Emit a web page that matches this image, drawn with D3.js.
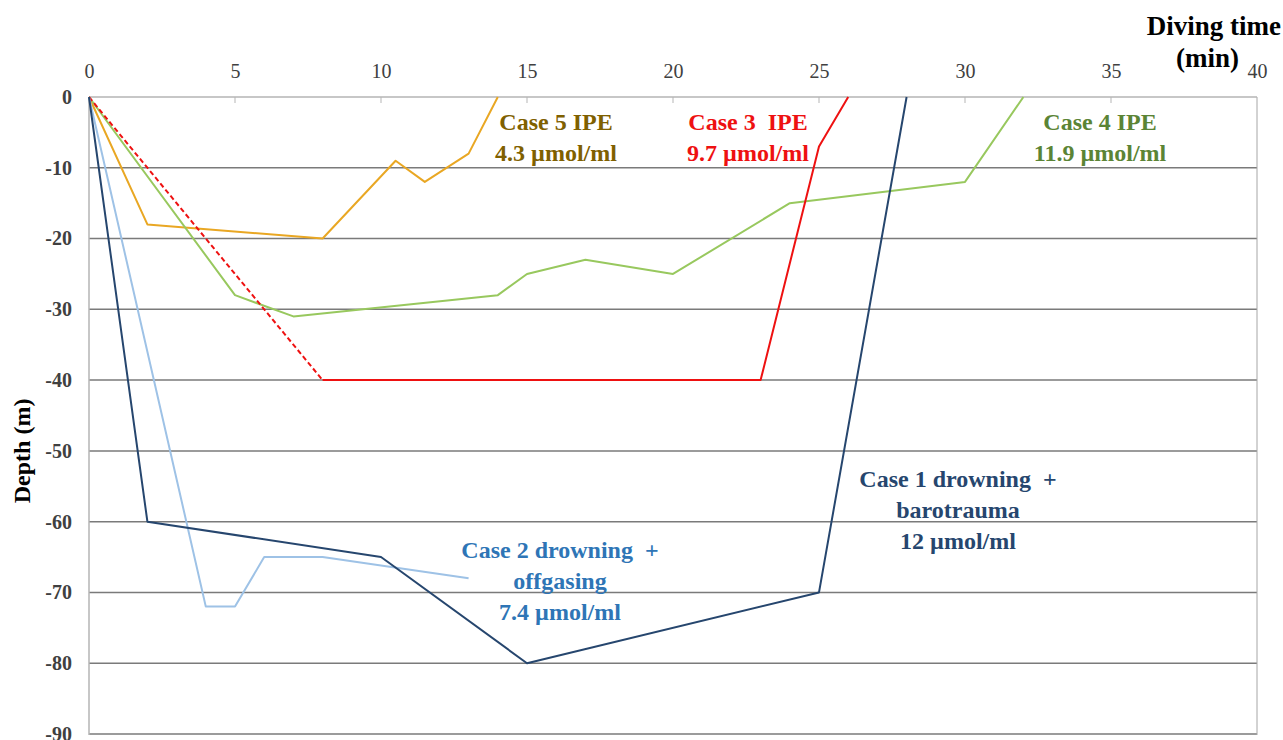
<!DOCTYPE html>
<html>
<head>
<meta charset="utf-8">
<script src="https://cdn.jsdelivr.net/npm/d3@7"></script>
<style>
  body { margin: 0; background: #fff; }
</style>
</head>
<body>
<div id="chart"></div>
<script>
// time (min) and depth (m) read from the dive profiles
const xTicks = [0, 5, 10, 15, 20, 25, 30, 35, 40];
const yTicks = [0, -10, -20, -30, -40, -50, -60, -70, -80, -90];

const case1Time = [0, 2, 10, 15, 25, 28];
const case1Depth = [0, -60, -65, -80, -70, 0];

const case2Time = [0, 4, 5, 6, 8, 13];
const case2Depth = [0, -72, -72, -65, -65, -68];

const case3DescentTime = [0, 8];
const case3DescentDepth = [0, -40];
const case3Time = [8, 23, 25, 26];
const case3Depth = [-40, -40, -7, 0];

const case4Time = [0, 5, 7, 14, 15, 17, 20, 24, 30, 32];
const case4Depth = [0, -28, -31, -28, -25, -23, -25, -15, -12, 0];

const case5Time = [0, 2, 8, 10.5, 11.5, 13, 14];
const case5Depth = [0, -18, -20, -9, -12, -8, 0];

const FONT = '"Liberation Serif", "Times New Roman", serif';
const MARGIN = { TOP: 97, LEFT: 89, BOTTOM: 5, RIGHT: 26 };
const W = 1283, H = 740;
const WIDTH = W - MARGIN.LEFT - MARGIN.RIGHT;
const HEIGHT = H - MARGIN.TOP - MARGIN.BOTTOM;

var svg = d3.select('#chart').append('svg')
  .attr('width', W)
  .attr('height', H)
  .style('font-family', FONT);

var g = svg.append('g')
  .attr('transform', 'translate(' + MARGIN.LEFT + ',' + MARGIN.TOP + ')');

var x = d3.scaleLinear().domain([0, 40]).range([0, WIDTH]);
var y = d3.scaleLinear().domain([0, -90]).range([0, HEIGHT - 1]);

// horizontal grid
g.selectAll('.grid')
  .data(yTicks.filter(function (d) { return d !== 0; }))
  .enter().append('line')
  .attr('x1', 0).attr('x2', WIDTH)
  .attr('y1', function (d) { return y(d); })
  .attr('y2', function (d) { return y(d); })
  .style('stroke', '#7a7a7a')
  .style('stroke-width', 1.5);

// right border
g.append('line')
  .attr('x1', WIDTH).attr('x2', WIDTH)
  .attr('y1', 0).attr('y2', HEIGHT)
  .style('stroke', '#a6a6a6');

// top axis
var xAxis = d3.axisTop(x).tickValues(xTicks).tickSize(0).tickPadding(19)
  .tickFormat(function (d) { return String(d); });
var gx = g.append('g').attr('class', 'x axis').call(xAxis);
gx.select('.domain').remove();
g.append('line')
  .attr('x1', 0).attr('x2', WIDTH).attr('y1', 0).attr('y2', 0)
  .style('stroke', '#b5b5b5').style('stroke-width', 1.5);
g.selectAll('.xtick')
  .data(xTicks.slice(1, -1))
  .enter().append('line')
  .attr('x1', function (d) { return x(d); })
  .attr('x2', function (d) { return x(d); })
  .attr('y1', 0).attr('y2', 6)
  .style('stroke', '#b5b5b5');

// left axis
var yAxis = d3.axisLeft(y).tickValues(yTicks).tickSize(0).tickPadding(17)
  .tickFormat(function (d) { return String(d); });
var gy = g.append('g').attr('class', 'y axis').call(yAxis);
gy.select('.domain').remove();
g.append('line')
  .attr('x1', 0).attr('x2', 0).attr('y1', 0).attr('y2', HEIGHT)
  .style('stroke', '#b5b5b5').style('stroke-width', 1.5);

g.selectAll('.axis').attr('font-family', FONT);
g.selectAll('.x.axis text')
  .style('font-size', '20px')
  .attr('fill', '#404040');
g.selectAll('.y.axis text')
  .style('font-size', '20px')
  .style('font-weight', 'bold')
  .attr('fill', '#404040');

// axis titles
svg.append('text')
  .attr('x', 1281).attr('y', 35)
  .attr('text-anchor', 'end')
  .style('font-size', '27px').style('font-weight', 'bold')
  .text('Diving time');
svg.append('text')
  .attr('x', 1239).attr('y', 67)
  .attr('text-anchor', 'end')
  .style('font-size', '27px').style('font-weight', 'bold')
  .text('(min)');
svg.append('text')
  .attr('transform', 'translate(30,' + (MARGIN.TOP + y(-50)) + ') rotate(-90)')
  .attr('text-anchor', 'middle')
  .style('font-size', '24px').style('font-weight', 'bold')
  .text('Depth (m)');

var line = d3.line()
  .x(function (d) { return x(d[0]); })
  .y(function (d) { return y(d[1]); });

function drawCase (times, depths, color, dash) {
  g.append('path')
    .datum(d3.zip(times, depths))
    .attr('d', line)
    .attr('fill', 'none')
    .style('stroke', color)
    .style('stroke-width', 2)
    .style('stroke-linejoin', 'round')
    .style('stroke-dasharray', dash || null);
}

drawCase(case5Time, case5Depth, '#e9a723');
drawCase(case4Time, case4Depth, '#98c85e');
drawCase(case3DescentTime, case3DescentDepth, '#ee1111', '5,3');
drawCase(case3Time, case3Depth, '#ee1111');
drawCase(case2Time, case2Depth, '#9ec2e6');
drawCase(case1Time, case1Depth, '#26466e');

// annotations (double spaces kept with a no-break space)
function note (cx, top, lines, color) {
  var t = svg.append('text')
    .attr('text-anchor', 'middle')
    .style('font-size', '24px').style('font-weight', 'bold')
    .attr('fill', color);
  lines.forEach(function (s, i) {
    t.append('tspan').attr('x', cx).attr('y', top + i * 31).text(s);
  });
}

note(556, 130, ['Case 5 IPE', '4.3 µmol/ml'], '#7f6000');
note(748, 130, ['Case 3 \u00a0IPE', '9.7 µmol/ml'], '#ee1111');
note(1100, 130, ['Case 4 IPE', '11.9 µmol/ml'], '#5b8435');
note(958, 487, ['Case 1 drowning \u00a0+', 'barotrauma', '12 µmol/ml'], '#26466e');
note(560, 558, ['Case 2 drowning \u00a0+', 'offgasing', '7.4 µmol/ml'], '#2e75b6');
</script>
</body>
</html>
